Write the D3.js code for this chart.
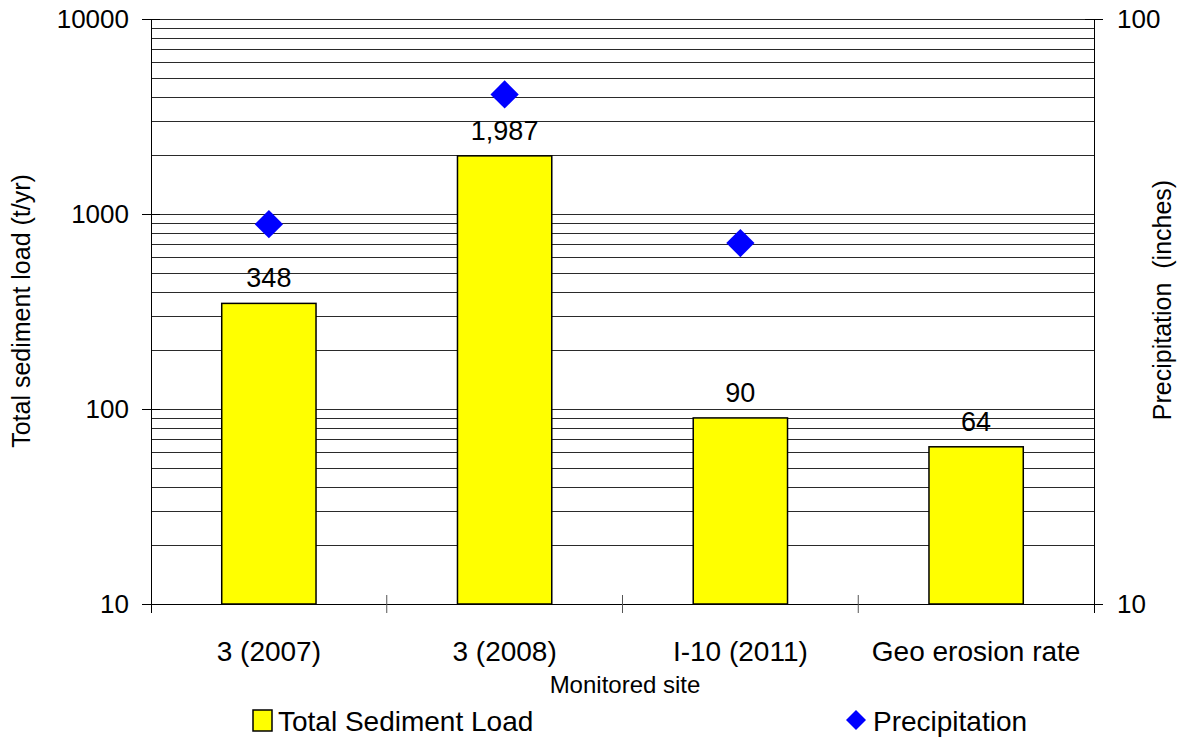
<!DOCTYPE html>
<html>
<head>
<meta charset="utf-8">
<script src="https://cdn.jsdelivr.net/npm/d3@7"></script>
<style>
  html, body { margin: 0; padding: 0; background: #fff; }
  svg { display: block; font-family: "Liberation Sans", Arial, sans-serif; }
</style>
</head>
<body>
<svg id="chart" width="1185" height="738"></svg>
<script>
// Sediment load per monitored site (left log axis) and precipitation (right log axis)
const sites = ["3 (2007)", "3 (2008)", "I-10 (2011)", "Geo erosion rate"];
const sedimentLoad = [348, 1987, 90, 64];
const sedimentLabels = ["348", "1,987", "90", "64"];
const precipitation = [44.6, 74.3, 41.4, null];
const leftTicks = [10, 100, 1000, 10000];
const rightTicks = [10, 100];

const svg = d3.select("#chart");
const m = { left: 151, right: 1094, top: 19, bottom: 604 };

const x = d3.scaleBand().domain(sites).range([m.left, m.right]).paddingInner(0).paddingOuter(0);
const yL = d3.scaleLog().domain([10, 10000]).range([m.bottom, m.top]);
const yR = d3.scaleLog().domain([10, 100]).range([m.bottom, m.top]);

// Gridlines at every log step (2..9 of each decade plus decades)
const gridVals = [];
for (let d = 10; d < 10000; d *= 10) for (let k = 1; k < 10; k++) gridVals.push(d * k);
gridVals.push(10000);
svg.append("g").selectAll("line").data(gridVals.filter(v => v > 10)).join("line")
  .attr("x1", m.left).attr("x2", m.right)
  .attr("y1", d => Math.round(yL(d)) + 0.5).attr("y2", d => Math.round(yL(d)) + 0.5)
  .attr("stroke", "#2a2a2a").attr("stroke-width", 1);

// Bars
const bw = x.bandwidth() * 0.4;
svg.append("g").selectAll("rect").data(sites).join("rect")
  .attr("x", (d) => x(d) + (x.bandwidth() - bw) / 2)
  .attr("y", (d, i) => yL(sedimentLoad[i]))
  .attr("width", bw)
  .attr("height", (d, i) => m.bottom - yL(sedimentLoad[i]))
  .attr("fill", "#ffff00").attr("stroke", "#000").attr("stroke-width", 1.5);

// Bar value labels
svg.append("g").selectAll("text").data(sites).join("text")
  .attr("x", d => x(d) + x.bandwidth() / 2)
  .attr("y", (d, i) => yL(sedimentLoad[i]) - 16)
  .attr("text-anchor", "middle").attr("font-size", 27).attr("fill", "#000")
  .text((d, i) => sedimentLabels[i]);

// Precipitation diamonds
const diamond = d3.symbol().type(d3.symbolSquare).size(400);
const precipSites = sites.filter((d, i) => precipitation[i] != null);
svg.append("g").selectAll("path").data(precipSites).join("path")
  .attr("d", diamond)
  .attr("transform", d => `translate(${x(d) + x.bandwidth() / 2},${yR(precipitation[sites.indexOf(d)])}) rotate(45)`)
  .attr("fill", "#0000ff");

// Left axis
const axisL = d3.axisLeft(yL).tickValues(leftTicks).tickFormat(d3.format("d")).tickSize(9).tickPadding(13);
const gL = svg.append("g").attr("transform", `translate(${m.left},0)`).call(axisL);
// Right axis
const axisR = d3.axisRight(yR).tickValues(rightTicks).tickFormat(d3.format("d")).tickSize(9).tickPadding(14);
const gR = svg.append("g").attr("transform", `translate(${m.right},0)`).call(axisR);
// Bottom axis with ticks between categories
const gB = svg.append("g").attr("transform", `translate(0,${m.bottom})`);
gB.append("line").attr("x1", m.left).attr("x2", m.right).attr("y1", 0.5).attr("y2", 0.5).attr("stroke", "#000");
gB.selectAll("line.tk").data(sites.slice(1)).join("line").attr("class", "tk")
  .attr("x1", d => x(d)).attr("x2", d => x(d)).attr("y1", -9).attr("y2", 9)
  .attr("stroke", "#555");
gB.selectAll("text").data(sites).join("text")
  .attr("x", d => x(d) + x.bandwidth() / 2).attr("y", 57)
  .attr("text-anchor", "middle").attr("font-size", 28).attr("fill", "#000")
  .text(d => d);

[gL, gR].forEach(g => {
  g.select(".domain").remove();
  g.selectAll(".tick line").attr("stroke", "#000");
  g.selectAll(".tick text").attr("font-size", 26).attr("fill", "#000").attr("font-family", "Liberation Sans, Arial, sans-serif");
});
// extend ticks through the axis line
gL.selectAll(".tick line").attr("x1", 9);
gR.selectAll(".tick line").attr("x1", -9);
svg.append("line").attr("x1", m.left + 0.5).attr("x2", m.left + 0.5).attr("y1", m.top).attr("y2", m.bottom + 9).attr("stroke", "#000");
svg.append("line").attr("x1", m.right + 0.5).attr("x2", m.right + 0.5).attr("y1", m.top).attr("y2", m.bottom + 9).attr("stroke", "#000");

// Axis titles
svg.append("text").attr("transform", `translate(30,311) rotate(-90)`)
  .attr("text-anchor", "middle").attr("font-size", 25).text("Total sediment load (t/yr)");
svg.append("text").attr("transform", `translate(1171,300) rotate(-90)`)
  .attr("text-anchor", "middle").attr("font-size", 25).style("white-space", "pre")
  .text("Precipitation  (inches)");
svg.append("text").attr("x", 625).attr("y", 693)
  .attr("text-anchor", "middle").attr("font-size", 24).text("Monitored site");

// Legend
const lg = svg.append("g");
lg.append("rect").attr("x", 253).attr("y", 710).attr("width", 19).attr("height", 21)
  .attr("fill", "#ffff00").attr("stroke", "#000").attr("stroke-width", 1.5);
lg.append("text").attr("x", 278).attr("y", 731).attr("font-size", 28).text("Total Sediment Load");
lg.append("path").attr("d", d3.symbol().type(d3.symbolSquare).size(200))
  .attr("transform", "translate(856,720) rotate(45)").attr("fill", "#0000ff");
lg.append("text").attr("x", 873).attr("y", 731).attr("font-size", 28).text("Precipitation");
</script>
</body>
</html>
